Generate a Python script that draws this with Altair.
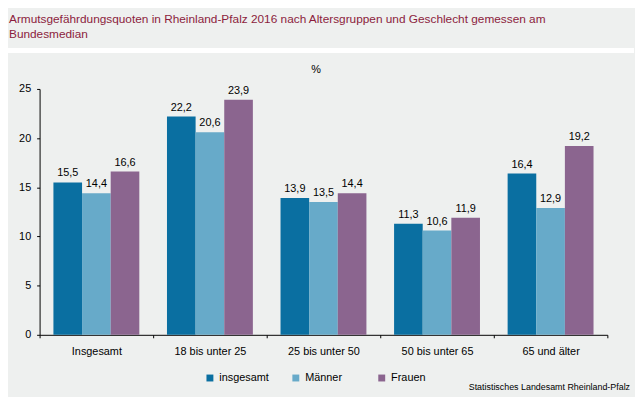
import altair as alt
import pandas as pd

categories = ["Insgesamt", "18 bis unter 25", "25 bis unter 50", "50 bis unter 65", "65 und älter"]
series = ["insgesamt", "Männer", "Frauen"]
insgesamt = [15.5, 22.2, 13.9, 11.3, 16.4]
maenner = [14.4, 20.6, 13.5, 10.6, 12.9]
frauen = [16.6, 23.9, 14.4, 11.9, 19.2]
colors = ["#0a6fa1", "#67aac9", "#8b658f"]
y_ticks = [0, 5, 10, 15, 20, 25]
title_lines = ["Armutsgefährdungsquoten in Rheinland-Pfalz 2016 nach Altersgruppen und Geschlecht gemessen am",
               "Bundesmedian"]
unit_label = "%"
source_label = "Statistisches Landesamt Rheinland-Pfalz"

rows = []
for s, vals in zip(series, [insgesamt, maenner, frauen]):
    for c, v in zip(categories, vals):
        rows.append({"cat": c, "serie": s, "wert": v})
df = pd.DataFrame(rows)

FONT = "Liberation Sans"
W, H = 575, 249

x = alt.X("cat:N", sort=categories, title=None,
          scale=alt.Scale(paddingInner=0, paddingOuter=0),
          axis=alt.Axis(labelAngle=0, labelFontSize=11, labelColor="#000", labelFont=FONT,
                        tickBand="extent", tickSize=3, tickColor="#000", domainColor="#000",
                        labelPadding=8, grid=False))
xoff = alt.XOffset("serie:N", sort=series, scale=alt.Scale(paddingInner=0, paddingOuter=0.483))
y = alt.Y("wert:Q", title=None,
          scale=alt.Scale(domain=[0, 25], nice=False),
          axis=alt.Axis(values=y_ticks, labelFontSize=11, labelColor="#000", labelFont=FONT,
                        tickSize=3, tickColor="#000", domainColor="#000", labelPadding=6, grid=False))
color = alt.Color("serie:N", sort=series, title=None,
                  scale=alt.Scale(domain=series, range=colors),
                  legend=alt.Legend(orient="none", legendX=167, legendY=287, direction="horizontal",
                                    symbolType="square", symbolSize=49, symbolStrokeWidth=0,
                                    labelFontSize=11, labelColor="#000", labelFont=FONT,
                                    columnPadding=21, gridAlign="all", labelOffset=4))

base = alt.Chart(df)
bars = base.mark_bar().encode(x=x, xOffset=xoff, y=y, color=color)
labels = base.transform_calculate(
    lab="replace(format(datum.wert, '.1f'), '.', ',')"
).mark_text(baseline="alphabetic", dy=-6, fontSize=11, color="#000", font=FONT).encode(
    x=alt.X("cat:N", sort=categories), xOffset=alt.XOffset("serie:N", sort=series),
    y="wert:Q", text="lab:N")

sep = alt.Chart(pd.DataFrame({"a": [0]})).mark_rect(color="#ffffff").encode(
    x=alt.value(-40), x2=alt.value(602), y=alt.value(-41.5), y2=alt.value(-36.5))

title = alt.Chart(pd.DataFrame({"t": [title_lines]})).mark_text(
    align="left", baseline="alphabetic", fontSize=12, color="#8c1d3d", font=FONT, lineHeight=15
).encode(text="t:N", x=alt.value(-31), y=alt.value(-66.5))

unit = alt.Chart(pd.DataFrame({"t": [unit_label]})).mark_text(
    align="center", baseline="middle", fontSize=11, color="#000", font=FONT
).encode(text="t:N", x=alt.value(280), y=alt.value(-19.5))

source = alt.Chart(pd.DataFrame({"t": [source_label]})).mark_text(
    align="right", baseline="alphabetic", fontSize=9, color="#000", font=FONT
).encode(text="t:N", x=alt.value(598), y=alt.value(304.5))

chart = alt.layer(sep, title, unit, bars, labels, source).properties(
    width=W, height=H,
    autosize=alt.AutoSizeParams(type="none"),
    padding={"left": 32, "top": 79.5, "right": 28, "bottom": 60.5},
    background="#eef0ef",
).configure_view(strokeWidth=0)

chart.save("out.html", embed_options={"renderer": "svg", "actions": False})
